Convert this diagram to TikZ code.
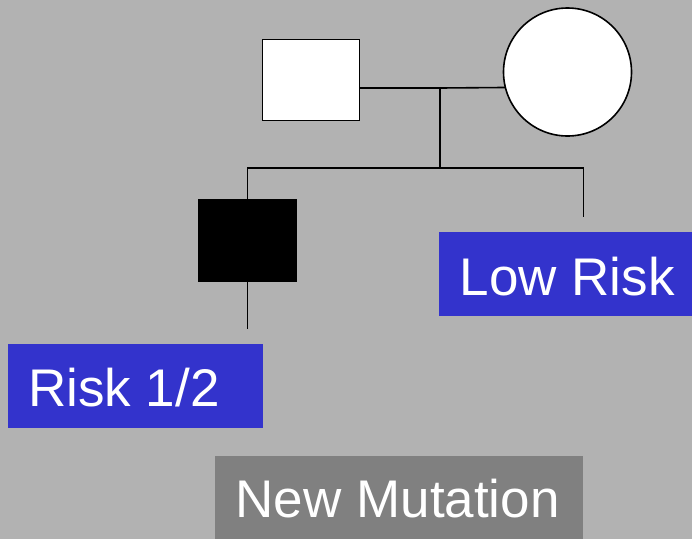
\documentclass[tikz,border=0pt]{standalone}
\usepackage{fontspec}
\setmainfont{Liberation Sans}
\definecolor{bg}{HTML}{B2B2B2}
\definecolor{riskblue}{HTML}{3333CC}
\definecolor{mutgray}{HTML}{808080}
\begin{document}
\begin{tikzpicture}[x=1pt,y=-1pt,
  person/.style={draw=black,line width=1.6pt,inner sep=0pt,outer sep=0pt},
  male/.style={person,rectangle,fill=white,minimum width=97pt,minimum height=81pt},
  female/.style={person,circle,fill=white,minimum size=128pt},
  affected/.style={person,rectangle,fill=black,minimum width=98pt,minimum height=81pt},
  line/.style={draw=black,line width=1.6pt},
  labelbox/.style={rectangle,inner sep=0pt,outer sep=0pt,minimum height=84pt},
  labeltext/.style={text=white,inner sep=0pt,anchor=base west,font=\fontsize{53}{60}\selectfont}]
\fill[bg] (0,0) rectangle (692,539);
\useasboundingbox (0,0) rectangle (692,539);
% persons
\node[male] (father) at (311,80) {};
\node[female] (mother) at (567.5,72) {};
\node[affected] (son) at (247.3,240.5) {};
% helper coordinates
\coordinate (m) at (440,88);
\coordinate (s) at (440,168);
\coordinate (r) at (583.3,168);
\coordinate (rd) at (583.3,217);
\coordinate (sd) at (247.3,329);
% connectors
\draw[line] (father.east |- m) -- (m) -- (mother.194.5);
\draw[line] (m) -- (s);
\draw[line] (son.north) -- (son.north |- s) -- (r) -- (rd);
\draw[line] (son.south) -- (sd);
% label boxes
\node[labelbox,fill=riskblue,minimum width=253pt] (lowbox) at (565.5,274) {};
\node[labelbox,fill=riskblue,minimum width=255pt] (riskbox) at (135.5,385.5) {};
\node[labelbox,fill=mutgray,minimum width=368pt,minimum height=83pt] (mutbox) at (399,497.5) {};
% texts
\node[labeltext] (lowtext) at (459.5,295) {Low Risk};
\node[labeltext] (risktext) at (28,406.5) {Risk 1/2};
\node[labeltext] (muttext) at (235.5,517) {New Mutation};
\end{tikzpicture}
\end{document}
